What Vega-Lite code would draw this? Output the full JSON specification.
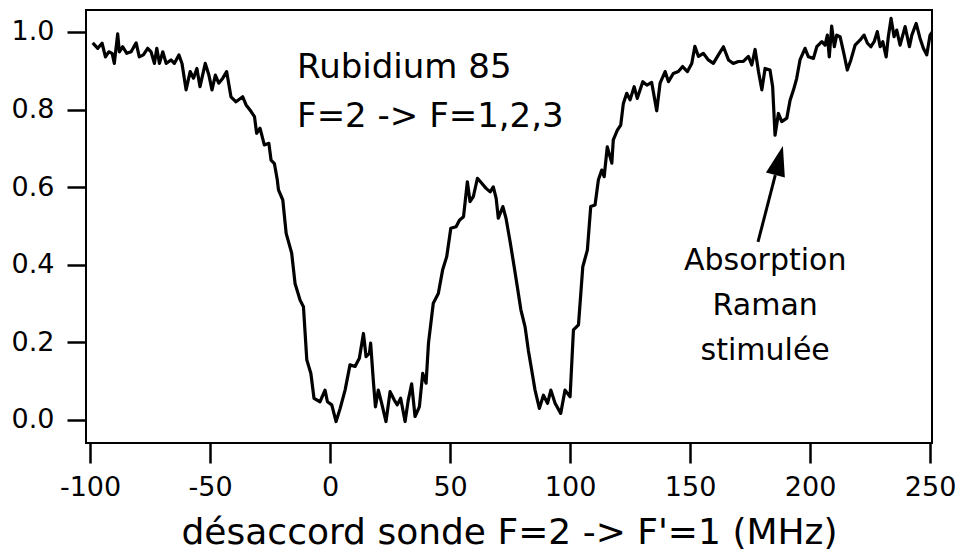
{
  "$schema": "https://vega.github.io/schema/vega-lite/v6.json",
  "width": 846,
  "height": 433,
  "autosize": {"type": "none"},
  "padding": {"left": 86, "top": 10, "right": 26, "bottom": 112},
  "background": "white",
  "config": {
    "view": {"stroke": "black", "strokeWidth": 2},
    "font": "DejaVu Sans"
  },
  "datasets": {
    "curve": [
      {"f": -98.9, "t": 0.972}, {"f": -96.8, "t": 0.958}, {"f": -95.0, "t": 0.971}, {"f": -93.6, "t": 0.936},
      {"f": -92.2, "t": 0.949}, {"f": -90.8, "t": 0.945}, {"f": -89.9, "t": 0.919}, {"f": -88.5, "t": 0.995},
      {"f": -87.8, "t": 0.949}, {"f": -86.4, "t": 0.962}, {"f": -84.7, "t": 0.945}, {"f": -82.9, "t": 0.949},
      {"f": -80.8, "t": 0.972}, {"f": -79.5, "t": 0.936}, {"f": -77.8, "t": 0.941}, {"f": -76.0, "t": 0.958},
      {"f": -74.6, "t": 0.949}, {"f": -73.2, "t": 0.919}, {"f": -72.2, "t": 0.958}, {"f": -71.1, "t": 0.919},
      {"f": -69.7, "t": 0.949}, {"f": -68.3, "t": 0.919}, {"f": -66.3, "t": 0.928}, {"f": -64.9, "t": 0.919},
      {"f": -63.0, "t": 0.941}, {"f": -61.7, "t": 0.919}, {"f": -60.0, "t": 0.851}, {"f": -58.3, "t": 0.898},
      {"f": -56.9, "t": 0.881}, {"f": -55.5, "t": 0.906}, {"f": -54.2, "t": 0.859}, {"f": -52.0, "t": 0.919},
      {"f": -50.5, "t": 0.889}, {"f": -49.2, "t": 0.851}, {"f": -47.8, "t": 0.889}, {"f": -46.4, "t": 0.868},
      {"f": -44.7, "t": 0.881}, {"f": -43.1, "t": 0.898}, {"f": -41.3, "t": 0.833}, {"f": -39.2, "t": 0.82},
      {"f": -36.4, "t": 0.833}, {"f": -35.0, "t": 0.812}, {"f": -32.9, "t": 0.795}, {"f": -31.5, "t": 0.782},
      {"f": -30.6, "t": 0.739}, {"f": -29.2, "t": 0.752}, {"f": -27.4, "t": 0.709}, {"f": -25.5, "t": 0.713},
      {"f": -24.6, "t": 0.67}, {"f": -23.2, "t": 0.661}, {"f": -22.0, "t": 0.619}, {"f": -21.5, "t": 0.593},
      {"f": -19.7, "t": 0.567}, {"f": -18.3, "t": 0.481}, {"f": -16.0, "t": 0.43}, {"f": -14.6, "t": 0.352},
      {"f": -12.5, "t": 0.309}, {"f": -11.1, "t": 0.292}, {"f": -9.7, "t": 0.155}, {"f": -8.0, "t": 0.12},
      {"f": -6.7, "t": 0.056}, {"f": -4.2, "t": 0.047}, {"f": -2.1, "t": 0.077}, {"f": -1.1, "t": 0.047},
      {"f": 0.7, "t": 0.039}, {"f": 2.5, "t": -0.004}, {"f": 4.2, "t": 0.03}, {"f": 6.25, "t": 0.077},
      {"f": 8.3, "t": 0.142}, {"f": 10.4, "t": 0.138}, {"f": 12.2, "t": 0.159}, {"f": 13.9, "t": 0.223},
      {"f": 15.0, "t": 0.163}, {"f": 16.4, "t": 0.172}, {"f": 16.9, "t": 0.198}, {"f": 18.0, "t": 0.103},
      {"f": 18.9, "t": 0.034}, {"f": 20.1, "t": 0.077}, {"f": 21.5, "t": 0.043}, {"f": 23.3, "t": -0.004},
      {"f": 25.0, "t": 0.073}, {"f": 26.7, "t": 0.052}, {"f": 28.0, "t": 0.039}, {"f": 29.4, "t": 0.056},
      {"f": 31.25, "t": -0.004}, {"f": 32.6, "t": 0.052}, {"f": 34.0, "t": 0.093}, {"f": 35.4, "t": 0.009},
      {"f": 37.2, "t": 0.034}, {"f": 38.6, "t": 0.12}, {"f": 40.0, "t": 0.095}, {"f": 41.0, "t": 0.198},
      {"f": 43.0, "t": 0.301}, {"f": 45.1, "t": 0.326}, {"f": 46.9, "t": 0.387}, {"f": 48.6, "t": 0.421},
      {"f": 50.3, "t": 0.494}, {"f": 52.5, "t": 0.498}, {"f": 53.9, "t": 0.515}, {"f": 55.6, "t": 0.524},
      {"f": 57.2, "t": 0.614}, {"f": 58.3, "t": 0.563}, {"f": 59.7, "t": 0.576}, {"f": 61.4, "t": 0.623},
      {"f": 63.2, "t": 0.61}, {"f": 65.0, "t": 0.597}, {"f": 66.7, "t": 0.588}, {"f": 68.0, "t": 0.601},
      {"f": 69.2, "t": 0.571}, {"f": 70.1, "t": 0.52}, {"f": 72.0, "t": 0.55}, {"f": 73.3, "t": 0.52},
      {"f": 75.0, "t": 0.46}, {"f": 76.7, "t": 0.395}, {"f": 78.0, "t": 0.344}, {"f": 79.5, "t": 0.284},
      {"f": 81.25, "t": 0.24}, {"f": 82.6, "t": 0.18}, {"f": 84.0, "t": 0.129}, {"f": 85.4, "t": 0.077},
      {"f": 87.2, "t": 0.03}, {"f": 88.9, "t": 0.064}, {"f": 90.6, "t": 0.043}, {"f": 92.0, "t": 0.077},
      {"f": 93.75, "t": 0.043}, {"f": 96.1, "t": 0.017}, {"f": 97.9, "t": 0.077}, {"f": 100.0, "t": 0.06},
      {"f": 101.4, "t": 0.232}, {"f": 103.5, "t": 0.245}, {"f": 105.3, "t": 0.395}, {"f": 107.2, "t": 0.438},
      {"f": 108.6, "t": 0.55}, {"f": 110.4, "t": 0.554}, {"f": 111.8, "t": 0.619}, {"f": 113.2, "t": 0.644},
      {"f": 114.2, "t": 0.627}, {"f": 115.5, "t": 0.704}, {"f": 117.4, "t": 0.662}, {"f": 118.0, "t": 0.722},
      {"f": 119.7, "t": 0.747}, {"f": 121.1, "t": 0.76}, {"f": 122.2, "t": 0.816}, {"f": 123.6, "t": 0.842},
      {"f": 125.0, "t": 0.825}, {"f": 126.7, "t": 0.859}, {"f": 128.0, "t": 0.829}, {"f": 130.3, "t": 0.872},
      {"f": 132.0, "t": 0.863}, {"f": 134.0, "t": 0.87}, {"f": 136.1, "t": 0.797}, {"f": 137.5, "t": 0.868},
      {"f": 139.6, "t": 0.898}, {"f": 141.0, "t": 0.872}, {"f": 143.0, "t": 0.893}, {"f": 145.1, "t": 0.898},
      {"f": 146.9, "t": 0.911}, {"f": 148.9, "t": 0.898}, {"f": 150.7, "t": 0.919}, {"f": 152.0, "t": 0.963},
      {"f": 153.5, "t": 0.937}, {"f": 155.5, "t": 0.945}, {"f": 157.6, "t": 0.928}, {"f": 159.7, "t": 0.919},
      {"f": 161.8, "t": 0.941}, {"f": 163.9, "t": 0.962}, {"f": 166.0, "t": 0.928}, {"f": 168.0, "t": 0.919},
      {"f": 170.1, "t": 0.924}, {"f": 172.2, "t": 0.924}, {"f": 174.3, "t": 0.937}, {"f": 175.7, "t": 0.915},
      {"f": 177.1, "t": 0.955}, {"f": 178.5, "t": 0.898}, {"f": 179.9, "t": 0.851}, {"f": 181.25, "t": 0.906},
      {"f": 183.3, "t": 0.902}, {"f": 184.4, "t": 0.859}, {"f": 185.4, "t": 0.734}, {"f": 186.8, "t": 0.79},
      {"f": 188.2, "t": 0.769}, {"f": 190.3, "t": 0.778}, {"f": 191.7, "t": 0.825}, {"f": 193.1, "t": 0.851},
      {"f": 194.4, "t": 0.88}, {"f": 195.8, "t": 0.928}, {"f": 197.9, "t": 0.958}, {"f": 199.3, "t": 0.936},
      {"f": 201.4, "t": 0.932}, {"f": 202.8, "t": 0.962}, {"f": 204.9, "t": 0.975}, {"f": 206.25, "t": 0.966},
      {"f": 207.2, "t": 0.992}, {"f": 208.0, "t": 0.936}, {"f": 209.0, "t": 1.015}, {"f": 210.1, "t": 0.962},
      {"f": 211.1, "t": 0.992}, {"f": 212.5, "t": 0.988}, {"f": 214.2, "t": 0.941}, {"f": 215.5, "t": 0.902},
      {"f": 217.0, "t": 0.928}, {"f": 218.75, "t": 0.966}, {"f": 220.8, "t": 0.979}, {"f": 222.5, "t": 0.992},
      {"f": 223.9, "t": 0.971}, {"f": 225.3, "t": 0.962}, {"f": 226.7, "t": 0.975}, {"f": 228.0, "t": 1.001},
      {"f": 229.2, "t": 0.962}, {"f": 230.3, "t": 0.975}, {"f": 231.7, "t": 0.936}, {"f": 232.6, "t": 0.988},
      {"f": 233.75, "t": 1.035}, {"f": 235.0, "t": 0.988}, {"f": 236.1, "t": 1.005}, {"f": 237.5, "t": 0.966},
      {"f": 239.6, "t": 1.014}, {"f": 241.4, "t": 0.962}, {"f": 242.4, "t": 0.992}, {"f": 244.2, "t": 1.022},
      {"f": 245.8, "t": 0.984}, {"f": 247.2, "t": 0.958}, {"f": 248.6, "t": 0.941}, {"f": 250.0, "t": 0.992},
      {"f": 251.0, "t": 1.001}
    ],
    "notes": [
      {"g": "title", "f": -13.75, "t": 0.881, "label": "Rubidium 85"},
      {"g": "title", "f": -13.75, "t": 0.755, "label": "F=2 -> F=1,2,3"},
      {"g": "raman", "f": 181.3, "t": 0.387, "label": "Absorption"},
      {"g": "raman", "f": 181.3, "t": 0.271, "label": "Raman"},
      {"g": "raman", "f": 181.3, "t": 0.155, "label": "stimulée"}
    ],
    "arrow": [
      {"f": 178.3, "t": 0.459, "f2": 185.5, "t2": 0.631, "fh": 187.1, "th": 0.669}
    ]
  },
  "layer": [
    {
      "data": {"name": "curve"},
      "mark": {"type": "line", "color": "black", "strokeWidth": 3.2, "clip": true, "strokeJoin": "round"},
      "encoding": {
        "x": {
          "field": "f", "type": "quantitative",
          "scale": {"domain": [-101.7, 250.8], "nice": false, "zero": false},
          "axis": {
            "values": [-100, -50, 0, 50, 100, 150, 200, 250],
            "labelExpr": "'' + datum.value",
            "domain": false,
            "grid": false,
            "ticks": true,
            "tickColor": "black",
            "tickWidth": 2.5,
            "tickSize": 20,
            "labelColor": "black",
            "labelFont": "DejaVu Sans",
            "labelFontSize": 27,
            "labelPadding": 11,
            "labelFlush": false,
            "labelOverlap": false,
            "title": "désaccord sonde F=2 -> F'=1 (MHz)",
            "titleFont": "DejaVu Sans",
            "titleFontSize": 36,
            "titleFontWeight": "normal",
            "titleColor": "black",
            "titlePadding": 15
          }
        },
        "y": {
          "field": "t", "type": "quantitative",
          "scale": {"domain": [-0.0593, 1.0567], "nice": false, "zero": false},
          "axis": {
            "values": [0, 0.2, 0.4, 0.6, 0.8, 1.0],
            "format": ".1f",
            "domain": false,
            "grid": false,
            "tickColor": "black",
            "tickWidth": 2.5,
            "tickSize": 19,
            "labelColor": "black",
            "labelFont": "DejaVu Sans",
            "labelFontSize": 27,
            "labelPadding": 13,
            "labelFlush": false,
            "labelOverlap": false,
            "title": null
          }
        }
      }
    },
    {
      "data": {"name": "notes"},
      "transform": [{"filter": "datum.g === 'title'"}],
      "mark": {"type": "text", "align": "left", "baseline": "alphabetic", "fontSize": 34, "font": "DejaVu Sans", "color": "black"},
      "encoding": {
        "x": {"field": "f", "type": "quantitative"},
        "y": {"field": "t", "type": "quantitative"},
        "text": {"field": "label"}
      }
    },
    {
      "data": {"name": "notes"},
      "transform": [{"filter": "datum.g === 'raman'"}],
      "mark": {"type": "text", "align": "center", "baseline": "alphabetic", "fontSize": 30, "font": "DejaVu Sans", "color": "black"},
      "encoding": {
        "x": {"field": "f", "type": "quantitative"},
        "y": {"field": "t", "type": "quantitative"},
        "text": {"field": "label"}
      }
    },
    {
      "data": {"name": "arrow"},
      "mark": {"type": "rule", "color": "black", "strokeWidth": 3},
      "encoding": {
        "x": {"field": "f", "type": "quantitative"},
        "y": {"field": "t", "type": "quantitative"},
        "x2": {"field": "f2"},
        "y2": {"field": "t2"}
      }
    },
    {
      "data": {"name": "arrow"},
      "mark": {"type": "point", "shape": "M0,-1L-0.65,1L0.65,1Z", "filled": true, "color": "black", "opacity": 1, "size": 900, "angle": 14.4},
      "encoding": {
        "x": {"field": "fh", "type": "quantitative"},
        "y": {"field": "th", "type": "quantitative"}
      }
    }
  ]
}
